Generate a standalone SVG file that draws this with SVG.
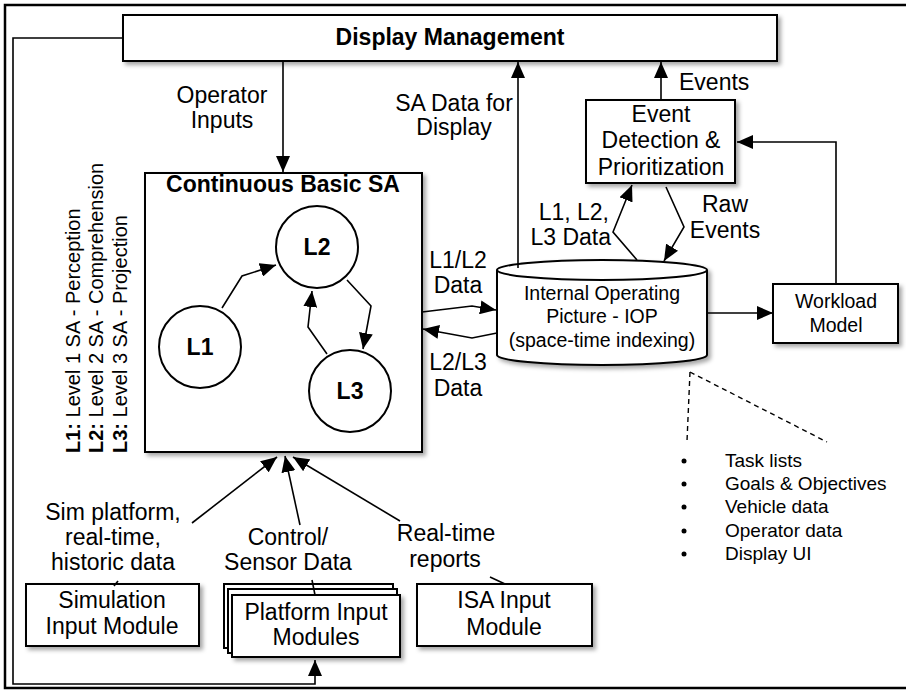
<svg xmlns="http://www.w3.org/2000/svg" width="906" height="690" viewBox="0 0 906 690">
<defs>
<style>
text{font-family:"Liberation Sans",Arial,sans-serif;fill:#000}
.t22{font-size:23px;text-anchor:middle}
.t19{font-size:19.5px;text-anchor:middle}
.b{font-weight:bold}
.box{fill:#fff;stroke:#000;stroke-width:2}
.ln{fill:none;stroke:#000;stroke-width:1.6}
.dash{fill:none;stroke:#000;stroke-width:1.4;stroke-dasharray:5,4}
</style>
<marker id="ah" markerUnits="userSpaceOnUse" markerWidth="16" markerHeight="14" refX="16" refY="7" orient="auto">
<path d="M0,0 L16,7 L0,14 Z" fill="#000"/>
</marker>
<filter id="sh" x="-10%" y="-10%" width="130%" height="140%">
<feDropShadow dx="3" dy="3" stdDeviation="2" flood-color="#000" flood-opacity="0.35"/>
</filter>
</defs>
<rect width="906" height="690" fill="#fff"/>
<path d="M906,5 H5 V688 H906" fill="none" stroke="#000" stroke-width="2.5"/>

<g id="display-management">
<rect class="box" x="123" y="15" width="654" height="46" filter="url(#sh)"/>
<text class="t22 b" x="450" y="45">Display Management</text>
</g>

<g id="continuous-basic-sa">
<rect class="box" x="145" y="173" width="277" height="279" filter="url(#sh)"/>
<text class="t22 b" x="283" y="192">Continuous Basic SA</text>
</g>

<g id="l1">
<circle class="box" cx="200" cy="347" r="41"/>
<text class="t22 b" x="200" y="355">L1</text>
</g>
<g id="l2">
<circle class="box" cx="317" cy="247" r="41"/>
<text class="t22 b" x="317" y="255">L2</text>
</g>
<g id="l3">
<circle class="box" cx="350" cy="391" r="41"/>
<text class="t22 b" x="350" y="399">L3</text>
</g>

<g id="event-detection">
<rect class="box" x="586" y="100" width="149" height="83" filter="url(#sh)"/>
<text class="t22" x="661" y="122">Event</text>
<text class="t22" x="661" y="148">Detection &amp;</text>
<text class="t22" x="661" y="175">Prioritization</text>
</g>

<g id="iop">
<path class="box" d="M497,270 A105,10 0 0 1 707,270 V355 A105,10 0 0 1 497,355 Z" filter="url(#sh)"/>
<path class="ln" style="stroke-width:2" d="M497,270 A105,10 0 0 0 707,270"/>
<text class="t19" x="602" y="300">Internal Operating</text>
<text class="t19" x="602" y="323">Picture - IOP</text>
<text class="t19" x="602" y="347">(space-time indexing)</text>
</g>

<g id="workload-model">
<rect class="box" x="773" y="284" width="125" height="59" filter="url(#sh)"/>
<text class="t19" x="836" y="308">Workload</text>
<text class="t19" x="836" y="332">Model</text>
</g>

<g id="iop-contents">
<circle cx="684" cy="461" r="2.5"/>
<circle cx="684" cy="484" r="2.5"/>
<circle cx="684" cy="507" r="2.5"/>
<circle cx="684" cy="531" r="2.5"/>
<circle cx="684" cy="554" r="2.5"/>
<text style="font-size:19px" x="725" y="467">Task lists</text>
<text style="font-size:19px" x="725" y="490">Goals &amp; Objectives</text>
<text style="font-size:19px" x="725" y="513">Vehicle data</text>
<text style="font-size:19px" x="725" y="537">Operator data</text>
<text style="font-size:19px" x="725" y="560">Display UI</text>
</g>

<g id="simulation-input">
<rect class="box" x="26" y="584" width="173" height="62" filter="url(#sh)"/>
<text class="t22" x="112" y="608">Simulation</text>
<text class="t22" x="112" y="634">Input Module</text>
</g>

<g id="platform-input">
<rect class="box" x="224" y="584" width="169" height="64"/>
<rect class="box" x="228" y="589" width="169" height="64"/>
<rect class="box" x="232" y="595" width="168" height="62" filter="url(#sh)"/>
<text class="t22" x="316" y="620">Platform Input</text>
<text class="t22" x="316" y="645">Modules</text>
</g>

<g id="isa-input">
<rect class="box" x="417" y="584" width="175" height="62" filter="url(#sh)"/>
<text class="t22" x="504" y="608">ISA Input</text>
<text class="t22" x="504" y="635">Module</text>
</g>

<g id="connectors">
<path class="ln" d="M123,38 H13 V684 H315 V660" marker-end="url(#ah)"/>
<path class="ln" d="M283,61 V172" marker-end="url(#ah)"/>
<path class="ln" d="M518,268 V62" marker-end="url(#ah)"/>
<path class="ln" d="M661,100 V62" marker-end="url(#ah)"/>
<path class="ln" d="M836,284 V142 H737" marker-end="url(#ah)"/>
<path class="ln" d="M707,313 H773" marker-end="url(#ah)"/>
<path class="ln" d="M422,312 L472,306 L496,310" marker-end="url(#ah)"/>
<path class="ln" d="M497,333 L472,338 L423,329" marker-end="url(#ah)"/>
<path class="ln" d="M637,260 L613,232 L632,185" marker-end="url(#ah)"/>
<path class="ln" d="M666,187 L684,227 L664,261" marker-end="url(#ah)"/>
<path class="ln" d="M222,308 L242,276 L276,265" marker-end="url(#ah)"/>
<path class="ln" d="M347,280 L371,306 L363,349" marker-end="url(#ah)"/>
<path class="ln" d="M327,354 L308,327 L312,291" marker-end="url(#ah)"/>
<path class="ln" d="M192,523 L277,457" marker-end="url(#ah)"/>
<path class="ln" d="M300,525 L285,456" marker-end="url(#ah)"/>
<path class="ln" d="M400,521 L293,457" marker-end="url(#ah)"/>
<path class="ln" d="M114,586 L118,581"/>
<path class="ln" d="M312,580 L315,595"/>
<path class="ln" d="M490,577 L505,584"/>
<path class="dash" d="M690,372 L687,441"/>
<path class="dash" d="M690,372 L827,442"/>
</g>

<g id="labels">
<text class="t22" x="222" y="103">Operator</text>
<text class="t22" x="222" y="128">Inputs</text>
<text class="t22" x="454" y="111">SA Data for</text>
<text class="t22" x="454" y="135">Display</text>
<text style="font-size:23px" x="679" y="90">Events</text>
<text class="t22" x="458" y="268">L1/L2</text>
<text class="t22" x="458" y="293">Data</text>
<text class="t22" x="458" y="370">L2/L3</text>
<text class="t22" x="458" y="396">Data</text>
<text style="font-size:23px;text-anchor:end" x="609" y="220">L1, L2,</text>
<text style="font-size:23px;text-anchor:end" x="611" y="245">L3 Data</text>
<text class="t22" x="725" y="212">Raw</text>
<text class="t22" x="725" y="238">Events</text>
<text class="t22" x="113" y="520">Sim platform,</text>
<text class="t22" x="113" y="545">real-time,</text>
<text class="t22" x="113" y="570">historic data</text>
<text class="t22" x="288" y="545">Control/</text>
<text class="t22" x="288" y="570">Sensor Data</text>
<text class="t22" x="446" y="541">Real-time</text>
<text class="t22" x="445" y="567">reports</text>
<text style="font-size:20px" transform="translate(80,453) rotate(-90)"><tspan font-weight="bold">L1:</tspan> Level 1 SA - Perception</text>
<text style="font-size:20px" transform="translate(103,453) rotate(-90)"><tspan font-weight="bold">L2:</tspan> Level 2 SA - Comprehension</text>
<text style="font-size:20px" transform="translate(127,453) rotate(-90)"><tspan font-weight="bold">L3:</tspan> Level 3 SA - Projection</text>
</g>
</svg>
